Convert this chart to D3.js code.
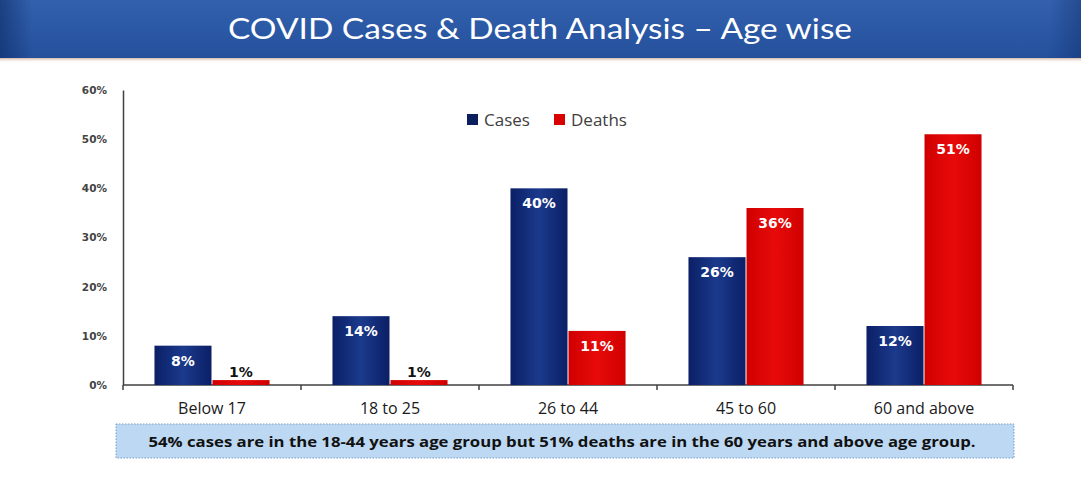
<!DOCTYPE html>
<html><head><meta charset="utf-8">
<script src="https://cdn.jsdelivr.net/npm/d3@7"></script>
<style>
html,body{margin:0;padding:0;background:#fff;}
svg{display:block;}
</style></head>
<body>
<svg id="chart" width="1081" height="485"></svg>
<script>
const categories = ["Below 17", "18 to 25", "26 to 44", "45 to 60", "60 and above"];
const seriesNames = ["Cases", "Deaths"];
const cases = [8, 14, 40, 26, 12];
const deaths = [1, 1, 11, 36, 51];
const yTicks = [0, 10, 20, 30, 40, 50, 60];
const title = "COVID Cases & Death Analysis \u2013 Age wise";
const note = "54% cases are in the 18-44 years age group but 51% deaths are in the 60 years and above age group.";

const svg = d3.select("#chart");
const defs = svg.append("defs");

// header gradient
const hg = defs.append("linearGradient").attr("id","hdr").attr("x1",0).attr("y1",0).attr("x2",0).attr("y2",1);
hg.append("stop").attr("offset","0%").attr("stop-color","#3361ad");
hg.append("stop").attr("offset","100%").attr("stop-color","#24509c");
const hs = defs.append("linearGradient").attr("id","hdrside").attr("x1",0).attr("y1",0).attr("x2",1).attr("y2",0);
hs.append("stop").attr("offset","0%").attr("stop-color","#0d2b66").attr("stop-opacity",0.6);
hs.append("stop").attr("offset","3%").attr("stop-color","#0d2b66").attr("stop-opacity",0);
hs.append("stop").attr("offset","97%").attr("stop-color","#0d2b66").attr("stop-opacity",0);
hs.append("stop").attr("offset","100%").attr("stop-color","#0d2b66").attr("stop-opacity",0.4);
const sh = defs.append("linearGradient").attr("id","shadow").attr("x1",0).attr("y1",0).attr("x2",0).attr("y2",1);
sh.append("stop").attr("offset","0%").attr("stop-color","#c9a48e").attr("stop-opacity",0.8);
sh.append("stop").attr("offset","100%").attr("stop-color","#ffffff").attr("stop-opacity",0);

svg.append("rect").attr("x",0).attr("y",0).attr("width",1081).attr("height",58).attr("fill","url(#hdr)");
svg.append("rect").attr("x",0).attr("y",0).attr("width",1081).attr("height",58).attr("fill","url(#hdrside)");
svg.append("rect").attr("x",0).attr("y",58).attr("width",1081).attr("height",5).attr("fill","url(#shadow)");
svg.append("text").attr("x",540).attr("y",39).attr("text-anchor","middle")
  .attr("fill","#fff").attr("font-family","Lato, 'Open Sans', sans-serif").attr("font-size",29)
  .attr("textLength",624).attr("lengthAdjust","spacingAndGlyphs")
  .text(title);

// bar gradients
function barGrad(id, edge, mid){
  const g = defs.append("linearGradient").attr("id",id).attr("x1",0).attr("y1",0).attr("x2",1).attr("y2",0);
  g.append("stop").attr("offset","0%").attr("stop-color",edge);
  g.append("stop").attr("offset","50%").attr("stop-color",mid);
  g.append("stop").attr("offset","100%").attr("stop-color",edge);
}
barGrad("gCases","#0b1f66","#1b3a8c");
barGrad("gDeaths","#d00000","#e80a0a");
const fills = {Cases:"url(#gCases)", Deaths:"url(#gDeaths)"};
const legendColors = {Cases:"#0b1f5e", Deaths:"#d80000"};

const m = {left:123, right:1013, top:90, bottom:385};
const x0 = d3.scaleBand().domain(categories).range([m.left, m.right]).paddingInner(0.348).paddingOuter(0.174);
const x1 = d3.scaleBand().domain(seriesNames).range([0, x0.bandwidth()]).padding(0);
const y = d3.scaleLinear().domain([0,60]).range([m.bottom, m.top]);

const data = categories.map((c,i)=>({cat:c, vals:[{s:"Cases",v:cases[i]},{s:"Deaths",v:deaths[i]}]}));

// axes
const yAxis = svg.append("g").attr("transform",`translate(${m.left},0)`)
  .call(d3.axisLeft(y).tickValues(yTicks).tickFormat(d=>d+"%").tickSize(0).tickPadding(16));
yAxis.select(".domain").attr("stroke","#404040").attr("stroke-width",1.5);
yAxis.selectAll("text").attr("font-family","'DejaVu Sans', Verdana, sans-serif").attr("font-size",10.5)
  .attr("font-weight","bold").attr("fill","#444").attr("dx",0);

const xb = d3.scaleLinear().domain([0,categories.length]).range([m.left, m.right]);
const xAxisG = svg.append("g").attr("transform",`translate(0,${m.bottom})`);
xAxisG.append("line").attr("x1",m.left).attr("x2",m.right).attr("stroke","#404040").attr("stroke-width",1.5);
xAxisG.selectAll("line.tk").data(d3.range(categories.length+1)).join("line").attr("class","tk")
  .attr("x1",d=>xb(d)).attr("x2",d=>xb(d)).attr("y1",0).attr("y2",5).attr("stroke","#404040").attr("stroke-width",1.5);
xAxisG.selectAll("text").data(categories).join("text")
  .attr("x",d=>x0(d)+x0.bandwidth()/2).attr("y",29).attr("text-anchor","middle")
  .attr("font-family","'Open Sans', sans-serif").attr("font-size",16).attr("fill","#1a1a1a").text(d=>d);

// bars
const groups = svg.append("g").selectAll("g").data(data).join("g")
  .attr("transform",d=>`translate(${x0(d.cat)},0)`);
groups.selectAll("rect").data(d=>d.vals).join("rect")
  .attr("x",d=>x1(d.s)+0.5).attr("width",x1.bandwidth()-1)
  .attr("y",d=>y(d.v)).attr("height",d=>y(0)-y(d.v))
  .attr("fill",d=>fills[d.s]);
groups.selectAll("text").data(d=>d.vals).join("text")
  .attr("x",d=>x1(d.s)+x1.bandwidth()/2)
  .attr("y",d=> d.v<3 ? y(d.v)-3 : y(d.v)+20)
  .attr("text-anchor","middle")
  .attr("font-family","'DejaVu Sans', Verdana, sans-serif").attr("font-weight","bold").attr("font-size",14)
  .attr("fill",d=> d.v<3 ? "#111" : "#fff")
  .text(d=>d.v+"%");

// legend
const leg = svg.append("g");
const legItems = [{s:"Cases",x:467},{s:"Deaths",x:554}];
legItems.forEach(it=>{
  leg.append("rect").attr("x",it.x).attr("y",114).attr("width",11).attr("height",11).attr("fill",legendColors[it.s]);
  leg.append("text").attr("x",it.x+17).attr("y",126).attr("font-family","'Open Sans', sans-serif")
    .attr("font-size",17).attr("fill","#404040").text(it.s);
});

// note box
svg.append("rect").attr("x",116).attr("y",424).attr("width",898).attr("height",34)
  .attr("fill","#bcd8f2").attr("stroke","#7a9cc6").attr("stroke-width",1).attr("stroke-dasharray","1.5,1.5");
svg.append("text").attr("x",562).attr("y",447).attr("text-anchor","middle")
  .attr("font-family","'Open Sans', sans-serif").attr("font-weight","bold").attr("font-size",15)
  .attr("textLength",827).attr("lengthAdjust","spacingAndGlyphs")
  .attr("fill","#111").text(note);
</script>
</body></html>
